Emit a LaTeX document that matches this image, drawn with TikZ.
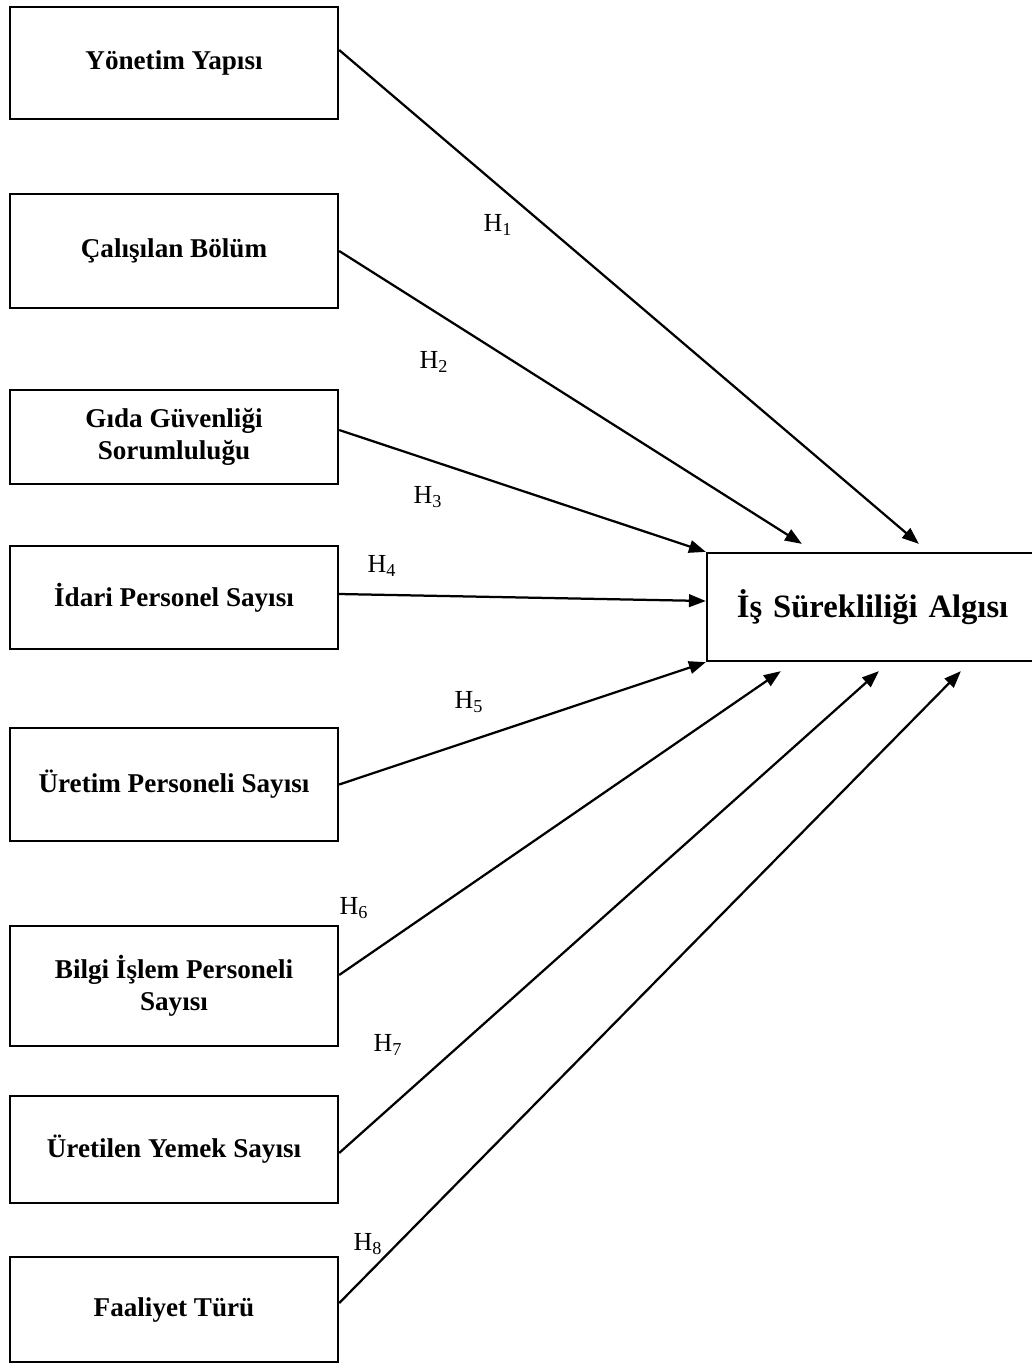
\documentclass[tikz,border=0pt]{standalone}
\usepackage{fontspec}
\setmainfont{Liberation Serif}
\usetikzlibrary{arrows.meta}
\tikzset{
  varbox/.style={draw, line width=1.6pt, minimum width=8.2cm, align=center,
    font=\fontsize{19.3}{23}\selectfont\bfseries},
  link/.style={line width=1.6pt, -{Triangle[length=12pt, width=9pt]}},
  hlabel/.style={font=\fontsize{18.5}{20}\selectfont, inner sep=0pt}
}
\newcommand{\hyp}[1]{H\textsubscript{#1}}
\begin{document}
\begin{tikzpicture}[x=0.025cm, y=-0.025cm]
\useasboundingbox (0,0) rectangle (1032,1364);
% independent variables
\node[varbox, minimum height=2.8cm] (yonetim) at (174,63) {Yönetim Yapısı};
\node[varbox, minimum height=2.85cm] (bolum) at (174,251) {Çalışılan Bölüm};
\node[varbox, minimum height=2.35cm] (gida) at (174,437) {Gıda Güvenliği\\Sorumluluğu};
\node[varbox, minimum height=2.575cm] (idari) at (174,597.5) {İdari Personel Sayısı};
\node[varbox, minimum height=2.825cm] (uretim) at (174,784.5) {Üretim Personeli Sayısı};
\node[varbox, minimum height=3cm] (bilgi) at (174,986) {Bilgi İşlem Personeli\\Sayısı};
\node[varbox, minimum height=2.675cm] (yemek) at (174,1149.5) {Üretilen Yemek Sayısı};
\node[varbox, minimum height=2.625cm] (faaliyet) at (174,1309.5) {Faaliyet Türü};
% dependent variable
\node[varbox, minimum width=8.45cm, minimum height=2.7cm, font=\fontsize{23.2}{27}\selectfont\bfseries,
  text width=6.95cm, align=left, inner xsep=0.75cm] (algi) at (876,607) {İş Sürekliliği Algısı};
% hypotheses
\draw[link] ([yshift=0.325cm]yonetim.east) -- ([xshift=5.325cm, yshift=0.2cm]algi.north west);
\draw[link] (bolum.east) -- ([xshift=2.4cm, yshift=0.2cm]algi.north west);
\draw[link] ([yshift=0.175cm]gida.east) -- (algi.north west);
\draw[link] ([yshift=0.0875cm]idari.east) -- ([yshift=0.15cm]algi.west);
\draw[link] (uretim.east) -- (algi.south west);
\draw[link] ([yshift=0.275cm]bilgi.east) -- ([xshift=1.875cm, yshift=-0.225cm]algi.south west);
\draw[link] ([yshift=-0.0875cm]yemek.east) -- ([xshift=4.325cm, yshift=-0.225cm]algi.south west);
\draw[link] ([yshift=0.16cm]faaliyet.east) -- ([xshift=6.375cm, yshift=-0.225cm]algi.south west);
% labels
\node[hlabel] (h1) at (498,225) {\hyp{1}};
\node[hlabel] (h2) at (434,362) {\hyp{2}};
\node[hlabel] (h3) at (428,497) {\hyp{3}};
\node[hlabel] (h4) at (382,566) {\hyp{4}};
\node[hlabel] (h5) at (469,702) {\hyp{5}};
\node[hlabel] (h6) at (354,908) {\hyp{6}};
\node[hlabel] (h7) at (388,1045) {\hyp{7}};
\node[hlabel] (h8) at (368,1244) {\hyp{8}};
\end{tikzpicture}
\end{document}
